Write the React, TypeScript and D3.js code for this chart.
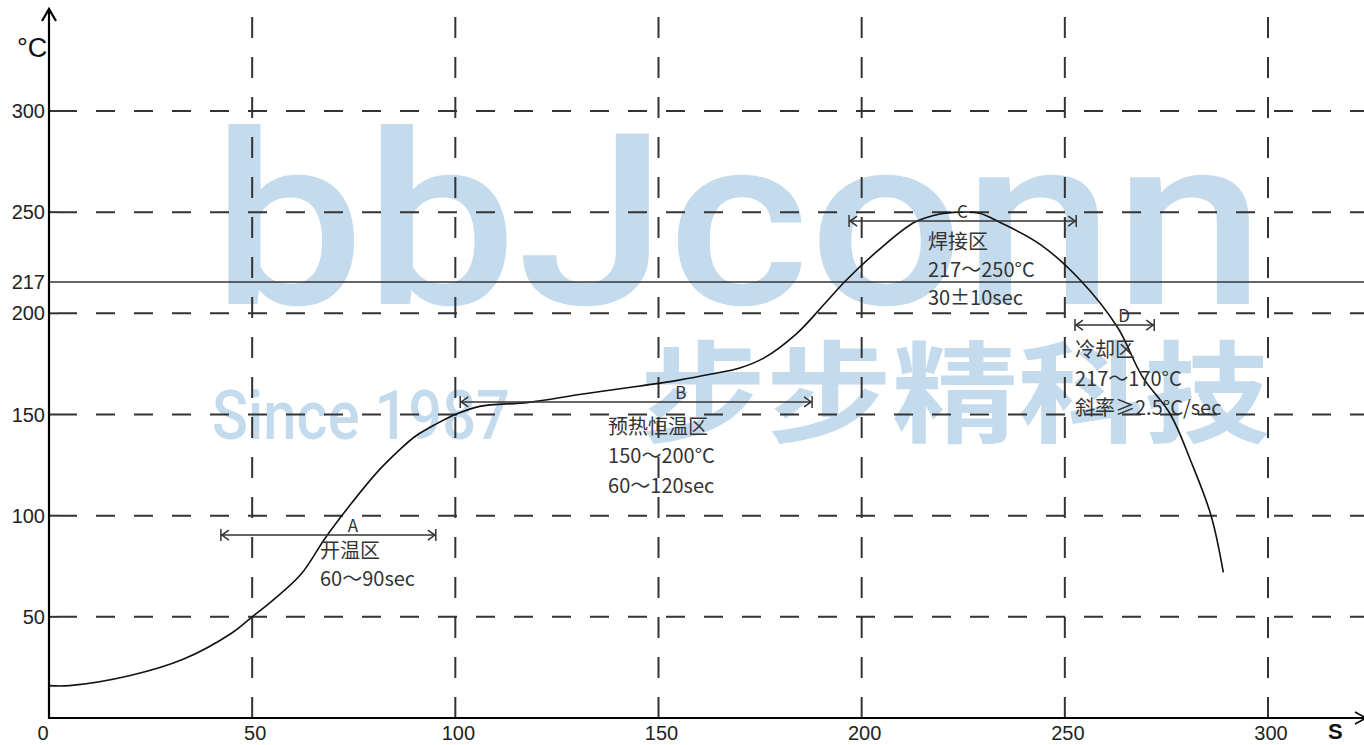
import React from "react";
import * as d3 from "d3";

// ---- data ----
const timeS = [0, 5, 20, 33, 45, 50, 55, 62, 68, 74, 81, 86, 90, 95, 100, 106, 118, 131, 145, 155, 163, 170, 176, 184, 191, 196, 204, 213, 219, 224, 229, 234, 244, 254, 263, 269, 276, 281, 286, 289];
const tempC = [16, 16, 21, 29, 42, 50, 58, 71, 89, 105, 122, 132, 139, 145, 150, 154, 156, 160, 164, 167, 170, 173, 178, 190, 205, 216, 231, 245, 249, 250, 249.5, 245, 234, 216, 193, 169, 150, 127, 100, 72];

const xTicks = [0, 50, 100, 150, 200, 250, 300];
const yGrid = [50, 100, 150, 200, 250, 300];
const yTickLabels = [50, 100, 150, 200, 217, 250, 300];
const liquidus = 217;

// zones: name, start, end, level (°C), letter position (s), text position (s)
const zoneNames = ["A", "B", "C", "D"];
const zoneStart = [42.3, 101.2, 196.9, 252.5];
const zoneEnd = [95.2, 187.8, 252.8, 272.0];
const zoneLevel = [90.4, 156.2, 245.6, 194.2];
const zoneLetterAt = [74.8, 155.5, 224.8, 264.6];
const zoneTextAt = [66.7, 137.6, 216.3, 252.5];
const zoneTexts = [
  ["开温区", "60～90sec"],
  ["预热恒温区", "150～200°C", "60～120sec"],
  ["焊接区", "217～250°C", "30±10sec"],
  ["冷却区", "217～170°C", "斜率≥2.5°C/sec"],
];

const W = 1364;
const H = 745;

export default function App() {
  const x = d3.scaleLinear().domain([0, 300]).range([49, 1268]);
  const y = d3.scaleLinear().domain([0, 300]).range([718, 111]);
  const x0 = x(0);
  const y0 = y(0);

  const pts = timeS.map((t, i) => [t, tempC[i]] as [number, number]);
  const line = d3
    .line<[number, number]>()
    .x((d) => x(d[0]))
    .y((d) => y(d[1]))
    .curve(d3.curveCatmullRom.alpha(0.5));

  const gridColor = "#333";
  const textColor = "#333";
  const wm = "#c4dbee";
  const tickFont = "Arial, 'Liberation Sans', sans-serif";
  const cjk = "'Noto Sans CJK SC', 'Noto Sans', sans-serif";

  const firstLineOffset = [23, 32, 28, 32];
  const lineStep = [28, 29.5, 28, 29];

  return (
    <svg
      width={W}
      height={H}
      style={{ position: "absolute", left: 0, top: 0, background: "#fff" }}
    >
      <rect width={W} height={H} fill="#fff" />

      {/* watermark */}
      <g fill={wm}>
        <text
          x={212}
          y={304}
          fontFamily="Roboto, 'Open Sans', sans-serif"
          fontWeight={500}
          fontSize={240}
          textLength={1053}
          lengthAdjust="spacingAndGlyphs"
        >
          bbJconn
        </text>
        <text
          x={212}
          y={439}
          fontFamily="Roboto, 'Open Sans', sans-serif"
          fontWeight={500}
          fontSize={68}
          textLength={298}
          lengthAdjust="spacingAndGlyphs"
        >
          Since 1987
        </text>
        <text
          x={640}
          y={434}
          fontFamily={cjk}
          fontWeight={700}
          fontSize={110}
          textLength={630}
          lengthAdjust="spacingAndGlyphs"
        >
          步步精科技
        </text>
      </g>

      {/* horizontal dashed grid */}
      {yGrid.map((v) => (
        <g key={"h" + v}>
          <line x1={x0} x2={x0 + 9} y1={y(v)} y2={y(v)} stroke={gridColor} strokeWidth={2} />
          <line
            x1={x0 + 9}
            x2={W}
            y1={y(v)}
            y2={y(v)}
            stroke={gridColor}
            strokeWidth={2}
            strokeDasharray="19 19"
          />
        </g>
      ))}

      {/* vertical dashed grid */}
      {xTicks
        .filter((v) => v > 0)
        .map((v) => (
          <line
            key={"v" + v}
            x1={x(v)}
            x2={x(v)}
            y1={y0}
            y2={10}
            stroke={gridColor}
            strokeWidth={2}
            strokeDasharray="21 19"
          />
        ))}

      {/* liquidus line */}
      <line x1={x0} x2={W} y1={y(liquidus) + 3} y2={y(liquidus) + 3} stroke="#333" strokeWidth={1.6} />

      {/* curve */}
      <path d={line(pts) || ""} fill="none" stroke="#111" strokeWidth={1.6} />

      {/* zones */}
      {zoneNames.map((n, i) => {
        const a = x(zoneStart[i]);
        const b = x(zoneEnd[i]);
        const ly = y(zoneLevel[i]);
        return (
          <g key={n}>
            <line x1={a} x2={b} y1={ly} y2={ly} stroke="#333" strokeWidth={1.5} />
            <line x1={a} x2={a} y1={ly - 6} y2={ly + 6} stroke="#333" strokeWidth={1.5} />
            <line x1={b} x2={b} y1={ly - 6} y2={ly + 6} stroke="#333" strokeWidth={1.5} />
            <polyline
              points={`${a + 8},${ly - 5} ${a + 1},${ly} ${a + 8},${ly + 5}`}
              fill="none"
              stroke="#333"
              strokeWidth={1.5}
            />
            <polyline
              points={`${b - 8},${ly - 5} ${b - 1},${ly} ${b - 8},${ly + 5}`}
              fill="none"
              stroke="#333"
              strokeWidth={1.5}
            />
            <text
              x={x(zoneLetterAt[i])}
              y={ly - 3}
              textAnchor="middle"
              fontFamily={cjk}
              fontSize={17}
              fill={textColor}
            >
              {n}
            </text>
            {zoneTexts[i].map((t, j) => (
              <text
                key={j}
                x={x(zoneTextAt[i])}
                y={ly + firstLineOffset[i] + j * lineStep[i]}
                fontFamily={cjk}
                fontSize={20}
                fill={textColor}
              >
                {t}
              </text>
            ))}
          </g>
        );
      })}

      {/* axes */}
      <line x1={x0} x2={x0} y1={y0 + 1} y2={9} stroke="#000" strokeWidth={2.2} />
      <polyline points={`${x0 - 7},${21} ${x0},${9} ${x0 + 7},${21}`} fill="none" stroke="#000" strokeWidth={2.2} />
      <line x1={x0 - 1} x2={W} y1={y0} y2={y0} stroke="#000" strokeWidth={2.2} />
      <polyline points={`${W - 9},${y0 - 6} ${W + 2},${y0} ${W - 9},${y0 + 6}`} fill="none" stroke="#000" strokeWidth={1.5} />

      {/* tick labels */}
      {yTickLabels.map((v) => (
        <text
          key={"yl" + v}
          x={x0 - 4}
          y={v === liquidus ? y(v) + 3 : y(v)}
          dy="0.35em"
          textAnchor="end"
          fontFamily={tickFont}
          fontSize={20}
          fill="#222"
        >
          {v}
        </text>
      ))}
      {xTicks.map((v) => (
        <text
          key={"xl" + v}
          x={v === 0 ? x(v) - 6 : x(v) + 3}
          y={y0 + 22}
          textAnchor="middle"
          fontFamily={tickFont}
          fontSize={20}
          fill="#222"
        >
          {v}
        </text>
      ))}

      {/* axis titles */}
      <text x={17} y={57} fontFamily={tickFont} fontSize={27} fill="#111">
        °C
      </text>
      <text x={1328} y={739} fontFamily={tickFont} fontWeight={700} fontSize={22} fill="#111">
        S
      </text>
    </svg>
  );
}
